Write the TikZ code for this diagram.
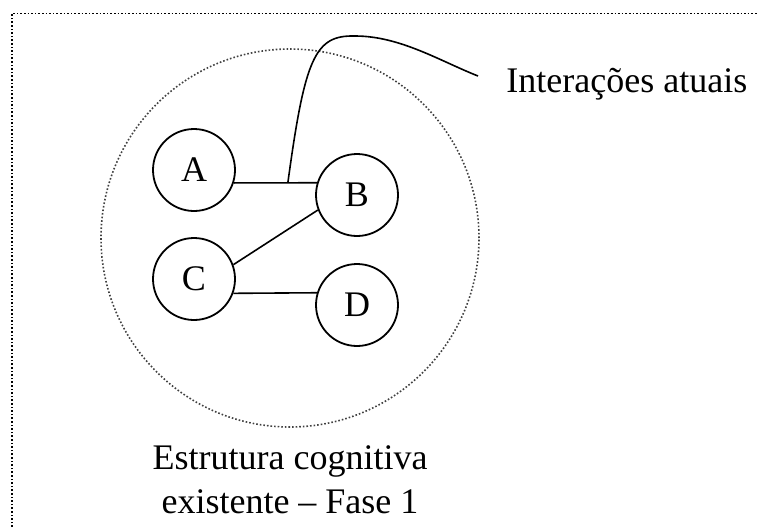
\documentclass[tikz,border=0pt]{standalone}
\usepackage{fontspec}
\setmainfont{Liberation Serif}
\usetikzlibrary{calc}

\begin{document}
\begin{tikzpicture}[x=0.5pt, y=0.5pt, font=\fontsize{18}{22}\selectfont,
  concept/.style={circle, draw, line width=0.9pt, minimum size=41pt, inner sep=0pt}]
  \useasboundingbox (0,0) rectangle (760,527);
  \draw[densely dotted, line width=0.8pt] (12,0) -- (12,513.5) -- (758,513.5);
  \draw[densely dotted, black!75, line width=0.8pt] (290,289) circle (94.5pt);
  \foreach \n/\x/\y in {A/194/357, B/357/332, C/194/248, D/357/222}
    \node[concept] (\n) at (\x,\y) {\n};
  \draw[line width=0.8pt] (A.-18.5) -- (B.163);
  \draw[line width=0.8pt] (C.20.6) -- (B.201.3);
  \draw[line width=0.8pt] (C.-20) -- (D.163);
  \coordinate (tap) at ($(A.-18.5)!0.65!(B.163)$);
  \node[anchor=base west, inner sep=0pt] (interacoes) at (506,435) {Interações atuais};
  \coordinate (tip) at (478,451);
  \draw[line width=0.8pt] (tap) .. controls (305,470) and (315,492) .. (355,491)
    .. controls (400,491) and (440,466) .. (tip);
  \node[align=center, anchor=base] (estrutura) at (290,14) {Estrutura cognitiva\\ existente -- Fase 1};
\end{tikzpicture}
\end{document}
